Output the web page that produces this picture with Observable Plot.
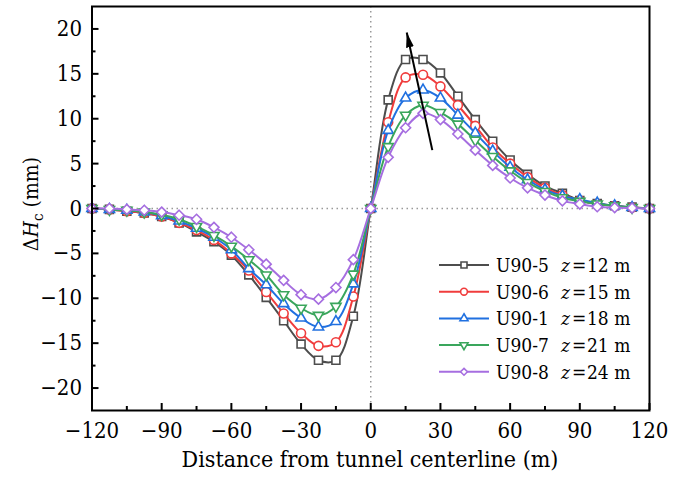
<!DOCTYPE html>
<html><head><meta charset="utf-8">
<script src="https://cdn.jsdelivr.net/npm/d3@7"></script>
<script src="https://cdn.jsdelivr.net/npm/@observablehq/plot@0.6"></script>
<style>body{margin:0;background:#fff}#chart{width:681px;height:479px}
#chart svg{font-stretch:condensed}</style>
</head><body><div id="chart"></div>
<script>
// ---- data ----
const distance = [-120,-112.5,-105,-97.5,-90,-82.5,-75,-67.5,-60,-52.5,-45,-37.5,-30,-22.5,-15,-7.5,0,7.5,15,22.5,30,37.5,45,52.5,60,67.5,75,82.5,90,97.5,105,112.5,120];
const u90_5 = [0,-0.1,-0.3,-0.5,-0.9,-1.6,-2.6,-3.7,-5.2,-7.4,-9.9,-12.5,-15.1,-16.9,-16.9,-12.0,0,12.1,16.6,16.6,15.1,12.5,9.9,7.5,5.4,3.8,2.5,1.7,0.9,0.55,0.3,0.15,0];
const u90_6 = [0,-0.1,-0.3,-0.5,-0.9,-1.6,-2.4,-3.5,-5.0,-6.9,-9.3,-11.7,-13.9,-15.3,-14.9,-9.8,0,9.6,14.6,14.9,13.6,11.5,9.2,6.8,5.0,3.5,2.3,1.5,0.9,0.5,0.3,0.1,0];
const u90_1 = [0,-0.1,-0.2,-0.4,-0.8,-1.4,-2.2,-3.2,-4.6,-6.7,-8.5,-10.6,-12.2,-13.2,-12.6,-8.4,0,8.7,12.3,13.2,12.3,10.4,8.4,6.4,4.6,3.2,2.1,1.4,1.0,0.6,0.3,0.1,0];
const u90_7 = [0,-0.1,-0.2,-0.4,-0.7,-1.2,-2.0,-3.0,-4.2,-5.7,-7.4,-9.6,-11.1,-11.9,-10.9,-7.3,0,6.9,10.4,11.5,10.7,9.4,7.6,5.8,4.2,2.9,1.9,1.2,0.8,0.5,0.3,0.1,0];
const u90_8 = [0,0,-0.1,-0.2,-0.4,-0.75,-1.2,-2.1,-3.2,-4.6,-6.2,-8.0,-9.6,-10.1,-8.8,-5.7,0,5.7,9.0,10.6,9.9,8.3,6.5,4.8,3.4,2.3,1.5,0.85,0.5,0.2,0.1,0.05,0];
const seriesNames = ["U90-5","U90-6","U90-1","U90-7","U90-8"];
const depths = ["12","15","18","21","24"];
const xTicks = [-120,-90,-60,-30,0,30,60,90,120];
const xMinor = [-105,-75,-45,-15,15,45,75,105];
const yTicks = [-20,-15,-10,-5,0,5,10,15,20];
const yMinor = [-17.5,-12.5,-7.5,-2.5,2.5,7.5,12.5,17.5];
const arrowFrom = [26.5, 6.5];
const arrowTo = [15.5, 19.6];

// ---- styles ----
const FONT = "DejaVu Serif";
const seriesValues = [u90_5,u90_6,u90_1,u90_7,u90_8];
const colors = ["#4d4d4d","#f03c3c","#2070e0","#3aa65c","#a66ee0"];
const sqrt3 = Math.sqrt(3);
const triDown = {draw(ctx, size){const y = Math.sqrt(size/(sqrt3*3)); ctx.moveTo(0,y*2); ctx.lineTo(-sqrt3*y,-y); ctx.lineTo(sqrt3*y,-y); ctx.closePath();}};
const triUp = {draw(ctx, size){const y = -Math.sqrt(size/(sqrt3*3)); ctx.moveTo(0,y*2); ctx.lineTo(-sqrt3*y,-y); ctx.lineTo(sqrt3*y,-y); ctx.closePath();}};
const symbols = [d3.symbolSquare, d3.symbolCircle, triUp, triDown, d3.symbolDiamond2];
const radii = [4.5, 4.5, 3.8, 3.8, 4.5];
const fmt = d => d < 0 ? "\u2212" + Math.abs(d) : String(d);

const arrowHead = (color) => {
  const m = d3.create("svg:marker")
    .attr("viewBox", "-10 -5 10 10")
    .attr("markerWidth", 7.5).attr("markerHeight", 7.5)
    .attr("orient", "auto").attr("fill", color).attr("stroke", "none");
  m.append("path").attr("d", "M-10,-2.6L0,0L-10,2.6Z");
  return m.node();
};

const seriesMarks = seriesValues.flatMap((vals, i) => {
  const rows = distance.map((d, j) => ({x: d, y: vals[j]}));
  return [
    Plot.line(rows, {x: "x", y: "y", stroke: colors[i], strokeWidth: 2, curve: "catmull-rom"}),
    Plot.dot(rows, {x: "x", y: "y", symbol: symbols[i], r: radii[i], stroke: colors[i], fill: "white", strokeWidth: 1.6})
  ];
});

const svgEl = Plot.plot({
  width: 681, height: 479,
  marginLeft: 91.5, marginRight: 32, marginTop: 6, marginBottom: 69,
  style: {fontFamily: FONT, background: "white", color: "black"},
  x: {domain: [-120, 120]},
  y: {domain: [-22.5, 22.5]},
  marks: [
    Plot.ruleY([0], {stroke: "#999", strokeDasharray: "1.5,3.5", strokeWidth: 1.5}),
    Plot.ruleX([0], {stroke: "#999", strokeDasharray: "1.5,3.5", strokeWidth: 1.5}),
    ...seriesMarks,
    Plot.link([{x1: arrowFrom[0], y1: arrowFrom[1], x2: arrowTo[0], y2: arrowTo[1]}],
      {x1: "x1", y1: "y1", x2: "x2", y2: "y2", stroke: "black", strokeWidth: 2, markerEnd: arrowHead}),
    Plot.axisX({ticks: xTicks, tickSize: 0, tickPadding: 12, tickFormat: fmt, fontSize: 22, label: null}),
    Plot.axisX({ticks: xTicks, tickSize: -7, strokeWidth: 2, tickFormat: () => "", label: null}),
    Plot.axisX({ticks: xMinor, tickSize: -4, strokeWidth: 2, tickFormat: () => "", label: null}),
    Plot.axisY({ticks: yTicks, tickSize: 0, tickPadding: 10, tickFormat: fmt, fontSize: 22, label: null}),
    Plot.axisY({ticks: yTicks, tickSize: -7, strokeWidth: 2, tickFormat: () => "", label: null}),
    Plot.axisY({ticks: yMinor, tickSize: -4, strokeWidth: 2, tickFormat: () => "", label: null}),
    Plot.frame({stroke: "black", strokeWidth: 2})
  ]
});
document.getElementById("chart").appendChild(svgEl);

const svg = d3.select(svgEl);
// x title
svg.append("text").attr("x", 370).attr("y", 467).attr("text-anchor", "middle")
  .attr("font-family", FONT).attr("font-size", 23).attr("fill", "black")
  .text("Distance from tunnel centerline (m)");
// y title
const yl = svg.append("text").attr("transform", "translate(38,204) rotate(-90)")
  .attr("text-anchor", "middle").attr("font-family", FONT).attr("font-size", 21).attr("fill", "black");
yl.append("tspan").text("\u0394");
yl.append("tspan").attr("font-style", "italic").text("H");
yl.append("tspan").attr("font-size", 15).attr("dy", 5).text("c");
yl.append("tspan").attr("dy", -5).text(" (mm)");

// legend
const lg = svg.append("g").attr("font-family", FONT).attr("font-size", 19)
  .attr("fill", "black").attr("text-anchor", "start");
seriesNames.forEach((name, i) => {
  const cy = 265 + i * 26.7;
  lg.append("line").attr("x1", 439).attr("x2", 489).attr("y1", cy).attr("y2", cy)
    .attr("stroke", colors[i]).attr("stroke-width", 2);
  lg.append("path").attr("transform", `translate(464,${cy})`)
    .attr("d", d3.symbol(symbols[i], i === 4 ? 30 : (i >= 2 ? 28 : 36))())
    .attr("fill", "white").attr("stroke", colors[i]).attr("stroke-width", 1.6);
  lg.append("text").attr("x", 496).attr("y", cy + 7).text(name);
  lg.append("text").attr("x", 561).attr("y", cy + 7).attr("font-style", "italic").text("z");
  lg.append("text").attr("x", 572).attr("y", cy + 7).text("=");
  lg.append("text").attr("x", 587).attr("y", cy + 7).text(depths[i] + " m");
});
</script>
</body></html>
